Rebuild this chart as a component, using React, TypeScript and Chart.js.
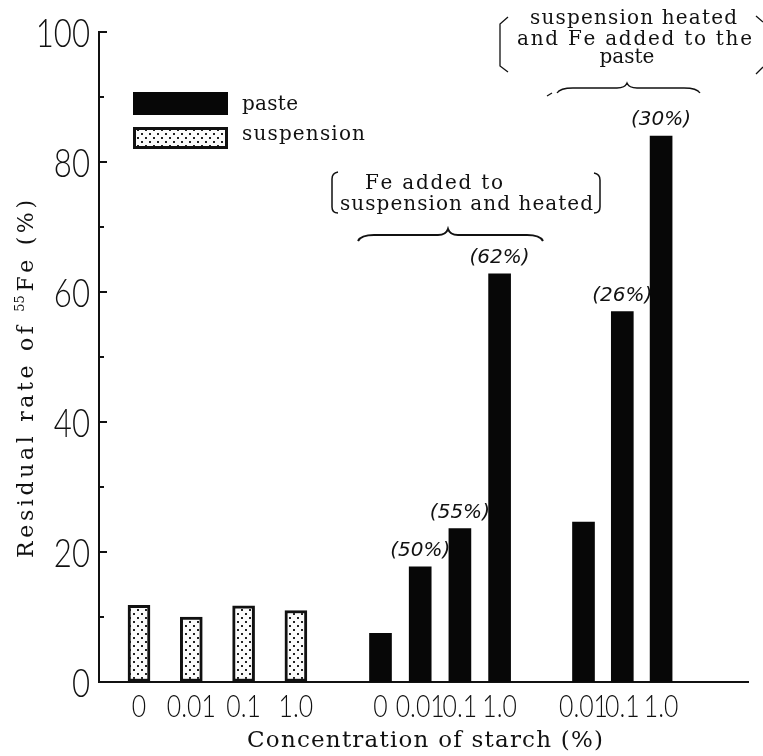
import React, { useEffect, useRef } from "react";
import { Chart, registerables } from "chart.js";
Chart.register(...registerables);

// ---- data ----
const seriesNames = ["paste", "suspension"];
const suspensionLabels = ["0", "0.01", "0.1", "1.0"];
const suspensionValues = [11.8, 10.0, 11.7, 11.0];
const pasteHeatedLabels = ["0", "0.01", "0.1", "1.0"];
const pasteHeatedValues = [7.5, 17.7, 23.6, 62.8];
const pasteHeatedNotes = ["", "(50%)", "(55%)", "(62%)"];
const pasteAddedLabels = ["0.01", "0.1", "1.0"];
const pasteAddedValues = [24.6, 57.0, 84.0];
const pasteAddedNotes = ["", "(26%)", "(30%)"];
const yTickValues = [0, 20, 40, 60, 80, 100];
const yTitleParts = ["Residual rate of ", "55", "Fe (%)"]; // middle part is a superscript
const xTitle = "Concentration of starch (%)";
const noteHeated = ["Fe added to", "suspension and heated"];
const noteAdded = ["suspension heated", "and Fe added to the", "paste"];

// ---- layout (axis units along the concentration axis) ----
const X_MAX = 649;
const groupLayout = {
  suspension: { start: 40, step: 52.3 },
  heated: { start: 281.5, step: 39.7 },
  added: { start: 484.5, step: 38.8 },
};

const TICKFONT = "'Lato', 'Liberation Sans', sans-serif";
const SERIF = "'DejaVu Serif', 'Liberation Serif', serif";
const INK = "#111";

function makeDots(): CanvasPattern | string {
  const c = document.createElement("canvas");
  c.width = 8;
  c.height = 8;
  const g = c.getContext("2d");
  if (!g) return "#eee";
  g.fillStyle = "#fbfbfb";
  g.fillRect(0, 0, 8, 8);
  g.fillStyle = "#222";
  g.fillRect(1, 1, 2, 2);
  g.fillRect(5, 5, 2, 2);
  const p = g.createPattern(c, "repeat");
  return p || "#eee";
}

function spaced(ctx: CanvasRenderingContext2D, text: string, left: number, y: number, target: number) {
  const chars = Array.from(text);
  const widths = chars.map((ch) => ctx.measureText(ch).width);
  const natural = widths.reduce((a, b) => a + b, 0);
  const gap = chars.length > 1 ? (target - natural) / (chars.length - 1) : 0;
  let x = left;
  ctx.textAlign = "left";
  chars.forEach((ch, i) => {
    ctx.fillText(ch, x, y);
    x += widths[i] + gap;
  });
}

// text drawn squeezed horizontally (tick numerals are narrow in the original)
function narrowText(ctx: CanvasRenderingContext2D, text: string, x: number, y: number, sx: number, align: CanvasTextAlign) {
  ctx.save();
  ctx.translate(x, y);
  ctx.scale(sx, 1);
  ctx.textAlign = align;
  ctx.fillText(text, 0, 0);
  ctx.restore();
}

function brace(ctx: CanvasRenderingContext2D, x0: number, x1: number, xm: number, yFlat: number, yPeak: number, yEnd: number) {
  ctx.beginPath();
  ctx.moveTo(x0, yEnd);
  ctx.quadraticCurveTo(x0 + 3, yFlat, x0 + 16, yFlat);
  ctx.lineTo(xm - 10, yFlat);
  ctx.quadraticCurveTo(xm - 2, yFlat, xm, yPeak);
  ctx.quadraticCurveTo(xm + 2, yFlat, xm + 10, yFlat);
  ctx.lineTo(x1 - 16, yFlat);
  ctx.quadraticCurveTo(x1 - 3, yFlat, x1, yEnd);
  ctx.stroke();
}

export default function App() {
  const ref = useRef<HTMLCanvasElement>(null);

  useEffect(() => {
    const canvas = ref.current;
    if (!canvas) return;
    const dots = makeDots();

    const pos = (g: { start: number; step: number }, i: number) => g.start + i * g.step;
    const susPos = suspensionLabels.map((_, i) => pos(groupLayout.suspension, i));
    const heatPos = pasteHeatedLabels.map((_, i) => pos(groupLayout.heated, i));
    const addPos = pasteAddedLabels.map((_, i) => pos(groupLayout.added, i));
    const allPos = [...susPos, ...heatPos, ...addPos];
    const allLabels = [...suspensionLabels, ...pasteHeatedLabels, ...pasteAddedLabels];
    const pasteNotes = [...pasteHeatedNotes, ...pasteAddedNotes];

    const pasteData = [
      ...pasteHeatedValues.map((v, i) => ({ x: heatPos[i], y: v })),
      ...pasteAddedValues.map((v, i) => ({ x: addPos[i], y: v })),
    ];
    const susData = suspensionValues.map((v, i) => ({ x: susPos[i], y: v }));

    const overlay = {
      id: "overlay",
      beforeDraw(chart: any) {
        const ctx = chart.ctx as CanvasRenderingContext2D;
        ctx.save();
        ctx.fillStyle = "#fff";
        ctx.fillRect(0, 0, chart.width, chart.height);
        ctx.restore();
      },
      afterDraw(chart: any) {
        const ctx = chart.ctx as CanvasRenderingContext2D;
        const ys = chart.scales.y;
        const xs = chart.scales.x;
        const area = chart.chartArea;
        ctx.save();
        ctx.strokeStyle = INK;
        ctx.fillStyle = INK;

        // inward ticks on the y axis (major + minor)
        ctx.lineWidth = 2;
        for (let v = 10; v <= 100; v += 10) {
          const py = Math.round(ys.getPixelForValue(v));
          const len = v % 20 === 0 ? 8 : 5;
          ctx.beginPath();
          ctx.moveTo(area.left, py);
          ctx.lineTo(area.left + len, py);
          ctx.stroke();
        }

        // y tick labels (from the scale's ticks)
        ctx.textBaseline = "alphabetic";
        ctx.font = `300 40px ${TICKFONT}`;
        ys.ticks.forEach((t: any) => {
          const py = ys.getPixelForValue(t.value);
          narrowText(ctx, String(t.value), area.left - 9, py + 14.5, 0.78, "right");
        });

        // x tick labels (from the scale's ticks)
        ctx.font = `300 31px ${TICKFONT}`;
        xs.ticks.forEach((t: any, i: number) => {
          const px = xs.getPixelForValue(t.value);
          narrowText(ctx, allLabels[i], px, area.bottom + 35, 0.8, "center");
        });

        // percentage notes above paste bars
        const meta = chart.getDatasetMeta(0);
        ctx.font = "italic 20px 'DejaVu Sans', sans-serif";
        ctx.textAlign = "center";
        meta.data.forEach((el: any, i: number) => {
          const note = pasteNotes[i];
          if (note) ctx.fillText(note, el.x, el.y - 11);
        });

        // y axis title (with superscript mass number)
        ctx.save();
        ctx.translate(33, 379);
        ctx.rotate(-Math.PI / 2);
        const normalFont = `22px ${SERIF}`;
        const supFont = `13px ${SERIF}`;
        const units: { t: string; sup: boolean }[] = [];
        yTitleParts.forEach((p, k) => {
          if (k === 1) units.push({ t: p, sup: true });
          else Array.from(p).forEach((c) => units.push({ t: c, sup: false }));
        });
        const ws = units.map((u) => {
          ctx.font = u.sup ? supFont : normalFont;
          return ctx.measureText(u.t).width;
        });
        const target = 358;
        const nat = ws.reduce((a, b) => a + b, 0);
        const gap = (target - nat) / (units.length - 1);
        let cx = -target / 2;
        ctx.textAlign = "left";
        units.forEach((u, i) => {
          ctx.font = u.sup ? supFont : normalFont;
          ctx.fillText(u.t, cx, u.sup ? -9 : 0);
          cx += ws[i] + gap;
        });
        ctx.restore();

        // x axis title
        ctx.font = `23px ${SERIF}`;
        spaced(ctx, xTitle, 247, 747, 356);

        // legend
        const dsPaste = chart.data.datasets[0];
        const dsSus = chart.data.datasets[1];
        ctx.fillStyle = dsPaste.backgroundColor;
        ctx.fillRect(133, 92, 95, 23);
        ctx.fillStyle = dsSus.backgroundColor;
        ctx.fillRect(133, 127, 95, 22);
        ctx.lineWidth = 3;
        ctx.strokeStyle = INK;
        ctx.strokeRect(134.5, 128.5, 92, 19);
        ctx.fillStyle = INK;
        ctx.font = `20px ${SERIF}`;
        spaced(ctx, seriesNames[0], 242, 110, 56);
        spaced(ctx, seriesNames[1], 242, 140, 123);

        // annotation: Fe added to suspension and heated
        spaced(ctx, noteHeated[0], 365, 189, 138);
        spaced(ctx, noteHeated[1], 340, 210, 253);
        ctx.lineWidth = 1.5;
        ctx.beginPath();
        ctx.moveTo(338, 172);
        ctx.quadraticCurveTo(332, 173, 332, 179);
        ctx.lineTo(332, 207);
        ctx.quadraticCurveTo(332, 213, 338, 213);
        ctx.stroke();
        ctx.beginPath();
        ctx.moveTo(594, 173);
        ctx.quadraticCurveTo(600, 174, 600, 180);
        ctx.lineTo(600, 207);
        ctx.quadraticCurveTo(600, 213, 594, 213);
        ctx.stroke();
        ctx.lineWidth = 2;
        brace(ctx, 358, 543, 448, 235, 229, 241);

        // annotation: suspension heated and Fe added to the paste
        spaced(ctx, noteAdded[0], 530, 24, 207);
        spaced(ctx, noteAdded[1], 517, 45, 235);
        ctx.textAlign = "center";
        ctx.fillText(noteAdded[2], 627, 63);
        ctx.lineWidth = 1.3;
        ctx.beginPath();
        ctx.moveTo(508, 17);
        ctx.lineTo(500, 24);
        ctx.lineTo(500, 66);
        ctx.lineTo(508, 72);
        ctx.stroke();
        ctx.beginPath();
        ctx.moveTo(756, 16);
        ctx.lineTo(763, 22);
        ctx.moveTo(756, 74);
        ctx.lineTo(763, 67);
        ctx.stroke();
        brace(ctx, 557, 700, 627, 88, 83, 93);
        ctx.beginPath();
        ctx.moveTo(547, 96);
        ctx.lineTo(552, 93);
        ctx.stroke();

        ctx.restore();
      },
    };

    const chart = new Chart(canvas, {
      type: "bar",
      data: {
        datasets: [
          {
            label: seriesNames[0],
            data: pasteData,
            backgroundColor: "#070707",
            borderWidth: 0,
            barThickness: 22,
            grouped: false,
          } as any,
          {
            label: seriesNames[1],
            data: susData,
            backgroundColor: dots,
            borderColor: INK,
            borderWidth: 3,
            borderSkipped: false,
            barThickness: 22,
            grouped: false,
          } as any,
        ],
      },
      options: {
        responsive: false,
        animation: false,
        events: [],
        layout: { padding: { top: 32, right: 15, left: 0, bottom: 0 } },
        plugins: {
          legend: { display: false },
          tooltip: { enabled: false },
          title: { display: false },
        },
        scales: {
          x: {
            type: "linear",
            min: 0,
            max: X_MAX,
            offset: false,
            afterBuildTicks: (scale: any) => {
              scale.ticks = allPos.map((v) => ({ value: v }));
            },
            afterFit: (scale: any) => {
              scale.height = 74;
            },
            ticks: { display: false, autoSkip: false },
            grid: { display: true, drawOnChartArea: false, drawTicks: false },
            border: { display: true, color: INK, width: 2 },
          },
          y: {
            type: "linear",
            min: 0,
            max: 100,
            afterBuildTicks: (scale: any) => {
              scale.ticks = yTickValues.map((v) => ({ value: v }));
            },
            afterFit: (scale: any) => {
              scale.width = 99;
            },
            ticks: { display: false },
            grid: { display: true, drawOnChartArea: false, drawTicks: false },
            border: { display: true, color: INK, width: 2 },
          },
        },
      },
      plugins: [overlay],
    } as any);

    return () => chart.destroy();
  }, []);

  return (
    <div style={{ position: "fixed", left: 0, top: 0, width: 763, height: 756, background: "#fff" }}>
      <canvas ref={ref} width={763} height={756} style={{ display: "block", width: 763, height: 756 }} />
    </div>
  );
}
